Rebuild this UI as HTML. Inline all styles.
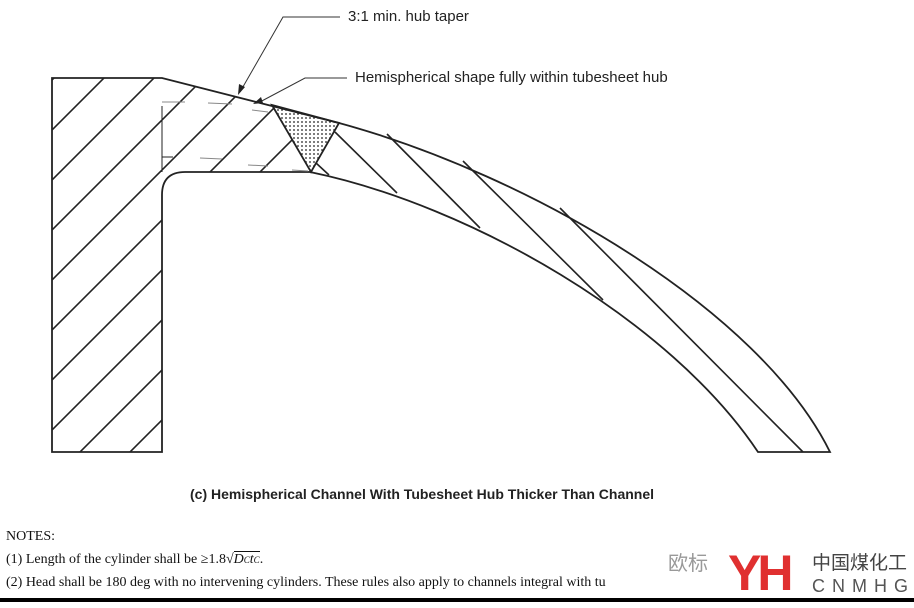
<!DOCTYPE html>
<html><head><meta charset="utf-8"><style>
body{margin:0;background:#fff;width:914px;height:608px;overflow:hidden;position:relative;font-family:"Liberation Sans",sans-serif}
.t{position:absolute;white-space:nowrap;color:#222;line-height:1.2}
.n{position:absolute;white-space:nowrap;font-family:"Liberation Serif",serif;font-size:14px;color:#111;line-height:18px}
</style></head><body>
<svg width="914" height="608" style="position:absolute;left:0;top:0">
<defs>
<pattern id="dots" width="4" height="4" patternUnits="userSpaceOnUse"><rect width="4" height="4" fill="#fff"/><circle cx="2" cy="2" r="0.9" fill="#222"/></pattern>
<clipPath id="hub"><path d="M52,78 L162,78 L272,105 L311,172 L185,172 Q162,172 162,195 L162,452 L52,452 Z"/></clipPath>
</defs>
<g clip-path="url(#hub)" stroke="#222" stroke-width="1.6">
<line x1="-200" y1="332" x2="332" y2="-200"/><line x1="-200" y1="382" x2="382" y2="-200"/>
<line x1="-200" y1="432" x2="432" y2="-200"/><line x1="-200" y1="482" x2="482" y2="-200"/>
<line x1="-200" y1="532" x2="532" y2="-200"/><line x1="-200" y1="582" x2="582" y2="-200"/>
<line x1="-200" y1="632" x2="632" y2="-200"/><line x1="-200" y1="682" x2="682" y2="-200"/>
<line x1="-200" y1="732" x2="732" y2="-200"/><line x1="-200" y1="782" x2="782" y2="-200"/>
<line x1="-200" y1="832" x2="832" y2="-200"/><line x1="-200" y1="882" x2="882" y2="-200"/>
</g>
<g stroke="#222" stroke-width="1.6">
<line x1="316" y1="163" x2="329" y2="175"/>
<line x1="335" y1="132" x2="397" y2="193"/>
<line x1="387" y1="134" x2="480" y2="228"/>
<line x1="463" y1="161" x2="603" y2="300"/>
<line x1="560" y1="208" x2="803" y2="452"/>
</g>
<path d="M272,105 L339,123 L311,172 Z" fill="url(#dots)" stroke="#222" stroke-width="1.8"/>
<path d="M52,78 L162,78 L339,123 C530,175 760,310 830,452 L758,452 C670,320 470,205 310,172 L185,172 Q162,172 162,195 L162,452 L52,452 Z" fill="none" stroke="#222" stroke-width="1.8"/>
<g stroke="#888" stroke-width="1">
<line x1="162" y1="102" x2="185" y2="102"/><line x1="208" y1="103" x2="232" y2="104"/>
<line x1="252" y1="110" x2="268" y2="112"/><line x1="200" y1="158" x2="222" y2="159"/>
<line x1="248" y1="165" x2="268" y2="166"/><line x1="292" y1="170" x2="308" y2="171"/>
</g>
<g stroke="#222" stroke-width="1"><line x1="162" y1="106" x2="162" y2="172"/><line x1="162" y1="157" x2="173" y2="157"/></g>
<g stroke="#333" stroke-width="1" fill="none">
<polyline points="340,17 283,17 240,92"/>
<polyline points="347,78 305,78 258,103"/>
</g>
<path d="M238,95 L239,84 L245,87 Z" fill="#222"/>
<path d="M253,104 L261,97 L263,103 Z" fill="#222"/>
<rect x="0" y="598" width="914" height="4" fill="#000"/>
</svg>
<div class="t" style="left:348px;top:8px;font-size:15px">3:1 min. hub taper</div>
<div class="t" style="left:355px;top:69px;font-size:15px">Hemispherical shape fully within tubesheet hub</div>
<div class="t" style="left:190px;top:486px;font-size:14px;font-weight:bold">(c) Hemispherical Channel With Tubesheet Hub Thicker Than Channel</div>
<div class="n" style="left:6px;top:528px">NOTES:</div>
<div class="n" style="left:6px;top:551px">(1) Length of the cylinder shall be ≥1.8√<span style="border-top:1px solid #111;font-style:italic">D<span style="font-size:9px">C</span>t<span style="font-size:9px">C</span></span>.</div>
<div class="n" style="left:6px;top:574px">(2) Head shall be 180 deg with no intervening cylinders. These rules also apply to channels integral with tu</div>
<div class="t" style="left:668px;top:550px;font-size:20px;color:#999;font-family:'Noto Sans CJK SC',sans-serif;line-height:24px">欧标</div>
<div class="t" style="left:728px;top:548px;font-size:50px;font-weight:bold;color:#e03030;line-height:50px;letter-spacing:-4px">YH</div>
<div class="t" style="left:812px;top:550px;font-size:19px;color:#444;font-family:'Noto Sans CJK SC',sans-serif;line-height:24px">中国煤化工</div>
<div class="t" style="left:812px;top:576px;font-size:18px;color:#555;letter-spacing:7px;line-height:20px">CNMHG</div>
</body></html>
